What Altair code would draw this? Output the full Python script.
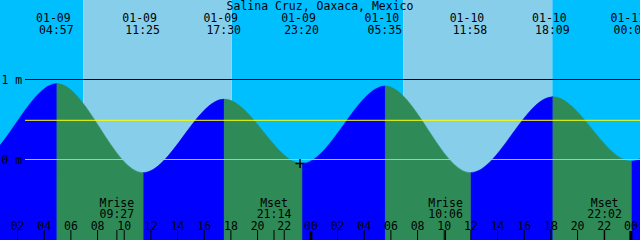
import altair as alt
import pandas as pd

# ---------------- data ----------------
title_text = "Salina Cruz, Oaxaca, Mexico"
window_start = "01-09 00:41"
window_end = "01-11 00:41"

tide_times = ["01-08 22:50", "01-09 04:57", "01-09 11:25", "01-09 17:30", "01-09 23:20",
              "01-10 05:35", "01-10 11:58", "01-10 18:09", "01-11 00:02", "01-11 06:10"]
tide_heights = [-0.04, 0.95, -0.165, 0.755, -0.05, 0.92, -0.165, 0.785, -0.02, 0.90]
tide_labelled = [False, True, True, True, True, True, True, True, True, False]

sunrise_times = ["01-09 06:56", "01-10 06:56"]
sunset_times = ["01-09 18:04", "01-10 18:06"]

moon_names = ["Mrise", "Mset", "Mrise", "Mset"]
moon_times = ["01-09 09:27", "01-09 21:14", "01-10 10:06", "01-10 22:02"]

hour_ticks = [2, 4, 6, 8, 10, 12, 14, 16, 18, 20, 22, 24,
              26, 28, 30, 32, 34, 36, 38, 40, 42, 44, 46, 48]

level_values = [1, 0]
level_labels = ["1 m", "0 m"]
mean_level = 0.49

now_time = "01-09 23:11"
now_height = -0.05

y_domain = [-1.00625, 1.99375]


def hours(s):
    md, hm = s.split()
    _, d = md.split("-")
    hh, mm = hm.split(":")
    return (int(d) - 9) * 24 + int(hh) + int(mm) / 60.0


x0, x1 = hours(window_start), hours(window_end)
xs = alt.Scale(domain=[x0, x1], nice=False, zero=False)
ys = alt.Scale(domain=y_domain, nice=False, zero=False)

# sky bands
edges = [x0 - 2]
for r, s in zip(sunrise_times, sunset_times):
    edges += [hours(r), hours(s)]
edges.append(x1 + 2)
sky = pd.DataFrame({
    "start": edges[:-1],
    "end": edges[1:],
    "kind": ["night" if i % 2 == 0 else "day" for i in range(len(edges) - 1)],
})

# tide segments (each from one extreme to the next); a tiny guard point just
# outside each end makes the monotone curve flat at both extremes
EPS = 0.0005
DELTA = 0.0005
rows = []
th = [hours(t) for t in tide_times]
for i in range(len(th) - 1):
    a, b = tide_heights[i], tide_heights[i + 1]
    d = "rise" if b > a else "fall"
    for (t, v) in [(th[i] - EPS, a + (b - a) * DELTA), (th[i], a),
                   (th[i + 1], b), (th[i + 1] + EPS, b + (a - b) * DELTA)]:
        rows.append({"h": t, "m": v, "seg": i, "dir": d, "floor": y_domain[0]})
tide = pd.DataFrame(rows)

ext = pd.DataFrame({
    "h": th,
    "date": [t.split()[0] for t in tide_times],
    "clock": [t.split()[1] for t in tide_times],
    "show": tide_labelled,
})
ext = ext[ext["show"]]

moon = pd.DataFrame({
    "h": [hours(t) for t in moon_times],
    "name": moon_names,
    "clock": [t.split()[1] for t in moon_times],
})

ticks = pd.DataFrame({
    "h": hour_ticks,
    "lab": ["%02d" % (h % 24) for h in hour_ticks],
    "midnight": [h % 24 == 0 for h in hour_ticks],
})

levels = pd.DataFrame({"m": level_values, "lab": level_labels})
mean_df = pd.DataFrame({"m": [mean_level]})
now_df = pd.DataFrame({"h": [hours(now_time)], "m": [now_height]})
title_df = pd.DataFrame({"t": [title_text]})

FONT = "DejaVu Sans Mono"
FS = 11.5

X = lambda f: alt.X(f, type="quantitative", scale=xs, axis=None)
Y = lambda f: alt.Y(f, type="quantitative", scale=ys, axis=None, stack=None)

night = alt.Chart(sky).transform_filter(alt.datum.kind == "night").mark_rect(
    color="#00BFFF", clip=True).encode(x=X("start"), x2="end")
day = alt.Chart(sky).transform_filter(alt.datum.kind == "day").mark_rect(
    color="#87CEEB", clip=True).encode(x=X("start"), x2="end")

rise = alt.Chart(tide).transform_filter(alt.datum.dir == "rise").mark_area(
    color="#0000FF", stroke="#0000FF", strokeWidth=0.5,
    interpolate="monotone", clip=True).encode(
    x=X("h"), y=Y("m"), y2="floor", detail="seg:N")
fall = alt.Chart(tide).transform_filter(alt.datum.dir == "fall").mark_area(
    color="#2E8B57", stroke="#2E8B57", strokeWidth=0.5,
    interpolate="monotone", clip=True).encode(
    x=X("h"), y=Y("m"), y2="floor", detail="seg:N")

zero_line = alt.Chart(levels).transform_filter(alt.datum.m == 0).mark_rule(
    color="#87CEEB", strokeWidth=1).encode(y=Y("m"), x=alt.value(25), x2=alt.value(640))
mean_line = alt.Chart(mean_df).mark_rule(color="#FFFF00", strokeWidth=1).encode(
    y=Y("m"), x=alt.value(25), x2=alt.value(640))
one_line = alt.Chart(levels).transform_filter(alt.datum.m == 1).mark_rule(
    color="#000000", strokeWidth=1).encode(y=Y("m"), x=alt.value(25), x2=alt.value(640))

level_text = alt.Chart(levels).mark_text(
    font=FONT, fontSize=FS, align="left", baseline="alphabetic", dy=4, color="black").encode(
    x=alt.value(1.5), y=Y("m"), text="lab")

now_mark = alt.Chart(now_df).mark_point(
    shape="M-1,0H1M0,-1V1", filled=False, stroke="black", strokeWidth=1.5,
    size=81, opacity=1).encode(x=X("h"), y=Y("m"))

title = alt.Chart(title_df).mark_text(
    font=FONT, fontSize=FS, align="center", baseline="alphabetic", color="black").encode(
    x=alt.value(320), y=alt.value(10), text="t")

date_text = alt.Chart(ext).mark_text(
    font=FONT, fontSize=FS, align="center", baseline="alphabetic", dx=-3.5, color="black").encode(
    x=X("h"), y=alt.value(21.7), text="date")
clock_text = alt.Chart(ext).mark_text(
    font=FONT, fontSize=FS, align="center", baseline="alphabetic", dx=-0.5, color="black").encode(
    x=X("h"), y=alt.value(34), text="clock")

moon_name = alt.Chart(moon).mark_text(
    font=FONT, fontSize=FS, align="center", baseline="alphabetic", color="black").encode(
    x=X("h"), y=alt.value(207), text="name")
moon_clock = alt.Chart(moon).mark_text(
    font=FONT, fontSize=FS, align="center", baseline="alphabetic", color="black").encode(
    x=X("h"), y=alt.value(218), text="clock")
moon_ticks = alt.Chart(moon).mark_rule(color="black", strokeWidth=1).encode(
    x=X("h"), y=alt.value(230), y2=alt.value(240))

hour_text = alt.Chart(ticks).mark_text(
    font=FONT, fontSize=FS, align="center", baseline="alphabetic", color="black").encode(
    x=X("h"), y=alt.value(229.5), text="lab")
hour_ticks_thin = alt.Chart(ticks).transform_filter(~alt.datum.midnight).mark_rule(
    color="black", strokeWidth=1).encode(x=X("h"), y=alt.value(230), y2=alt.value(240))
hour_ticks_thick = alt.Chart(ticks).transform_filter(alt.datum.midnight).mark_rule(
    color="black", strokeWidth=3).encode(x=X("h"), y=alt.value(231), y2=alt.value(240))

chart = alt.layer(
    night, day, rise, fall, zero_line, mean_line, one_line, level_text, now_mark,
    title, date_text, clock_text, moon_name, moon_clock, moon_ticks,
    hour_text, hour_ticks_thin, hour_ticks_thick,
).properties(
    width=640, height=240, autosize=alt.AutoSizeParams(type="none"), padding=0
).configure_view(strokeWidth=0)

chart.save("out.html", embed_options={"renderer": "svg", "actions": False})
